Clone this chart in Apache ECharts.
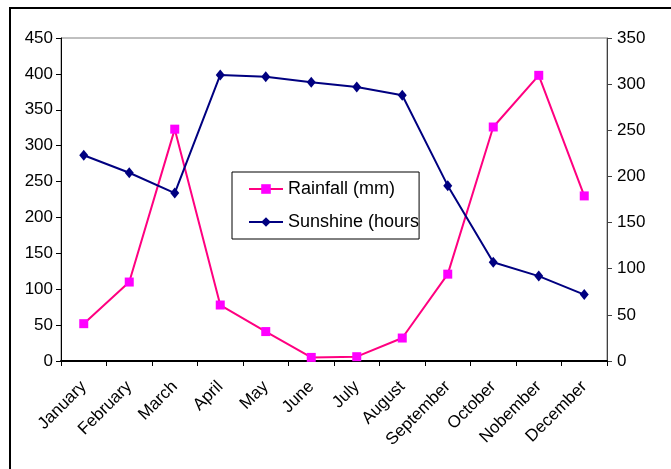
<!DOCTYPE html>
<html>
<head>
<meta charset="utf-8">
<script src="https://cdn.jsdelivr.net/npm/echarts@6/dist/echarts.min.js"></script>
<style>
html,body{margin:0;padding:0;background:#fff;}
#chart{width:671px;height:469px;}
</style>
</head>
<body>
<div id="chart"></div>
<script>
var months = ['January','February','March','April','May','June','July','August','September','October','Nobember','December'];
var rainfall = [52, 110, 323, 78, 41, 5, 6, 32, 121, 326, 398, 230];
var sunshine = [223, 204, 182, 310, 308, 302, 297, 288, 190, 107, 92, 72];
var leftTicks = [0, 50, 100, 150, 200, 250, 300, 350, 400, 450];
var rightTicks = [0, 50, 100, 150, 200, 250, 300, 350];

var FONT = '"Liberation Sans", Arial, sans-serif';
var chart = echarts.init(document.getElementById('chart'), null, {renderer:'canvas'});
chart.setOption({
  animation: false,
  backgroundColor: '#fff',
  graphic: [{
    type: 'rect', z: 100, silent: true,
    shape: {x: 10, y: 8, width: 800, height: 600},
    style: {fill: 'none', stroke: '#000', lineWidth: 2}
  }],
  grid: {left: 61, right: 64, top: 38, bottom: 108, show: true, borderColor: '#808080', borderWidth: 1, backgroundColor: 'transparent'},
  legend: {
    orient: 'vertical', left: 232, top: 172,
    padding: [7, 0, 7, 16],
    itemWidth: 34, itemHeight: 12, itemGap: 13,
    borderColor: '#000', borderWidth: 1, backgroundColor: '#fff',
    textStyle: {fontFamily: FONT, fontSize: 18, color: '#000', lineHeight: 20},
    data: ['Rainfall (mm)', 'Sunshine (hours)'],
    formatter: function(name){ return name === 'Sunshine (hours)' ? 'Sunshine (hours' : name; }
  },
  xAxis: {
    type: 'category', data: months, boundaryGap: true,
    axisLine: {lineStyle: {color: '#000', width: 2}},
    axisTick: {show: true, length: 5, lineStyle: {color: '#000', width: 1}},
    axisLabel: {rotate: 45, margin: 23, interval: 0, fontFamily: FONT, fontSize: 17, color: '#000'},
    splitLine: {show: false}
  },
  yAxis: [{
    type: 'value', min: 0, max: 450, interval: 50,
    axisLine: {show: true, lineStyle: {color: '#000', width: 1}},
    axisTick: {show: true, length: 5, lineStyle: {color: '#000'}},
    axisLabel: {margin: 8, fontFamily: FONT, fontSize: 17, color: '#000',
      formatter: function(v){ return leftTicks.indexOf(v) >= 0 ? String(v) : ''; }},
    splitLine: {show: false}
  }, {
    type: 'value', min: 0, max: 350, interval: 50, position: 'right',
    axisLine: {show: true, lineStyle: {color: '#404040', width: 1}},
    axisTick: {show: true, length: 5, lineStyle: {color: '#404040'}},
    axisLabel: {margin: 10, fontFamily: FONT, fontSize: 17, color: '#000',
      formatter: function(v){ return rightTicks.indexOf(v) >= 0 ? String(v) : ''; }},
    splitLine: {show: false}
  }],
  series: [{
    name: 'Rainfall (mm)', type: 'line', yAxisIndex: 0, data: rainfall,
    symbol: 'rect', symbolSize: 9,
    lineStyle: {color: '#FF0080', width: 2},
    itemStyle: {color: '#FF00FF', borderWidth: 0},
    z: 3
  }, {
    name: 'Sunshine (hours)', type: 'line', yAxisIndex: 1, data: sunshine,
    symbol: 'diamond', symbolSize: [9, 11],
    lineStyle: {color: '#000080', width: 2},
    itemStyle: {color: '#000080', borderWidth: 0},
    z: 4
  }]
});
</script>
</body>
</html>
